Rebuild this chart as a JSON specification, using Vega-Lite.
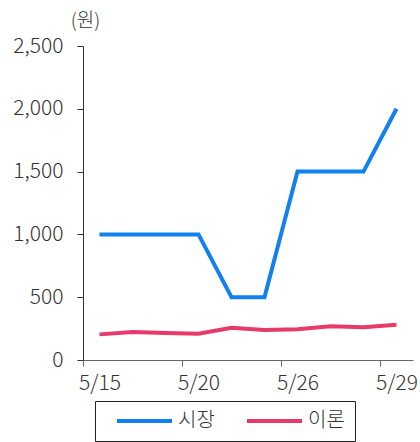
{
  "$schema": "https://vega.github.io/schema/vega-lite/v6.json",
  "width": 330,
  "height": 314,
  "autosize": {"type": "none"},
  "padding": {"left": 83, "top": 46, "right": 7, "bottom": 82},
  "background": "white",
  "config": {
    "view": {"stroke": null},
    "font": "Noto Sans CJK KR"
  },
  "data": {
    "values": [
      {"date": "5/15", "series": "시장", "price": 1000},
      {"date": "5/16", "series": "시장", "price": 1000},
      {"date": "5/19", "series": "시장", "price": 1000},
      {"date": "5/20", "series": "시장", "price": 1000},
      {"date": "5/21", "series": "시장", "price": 500},
      {"date": "5/22", "series": "시장", "price": 500},
      {"date": "5/26", "series": "시장", "price": 1500},
      {"date": "5/27", "series": "시장", "price": 1500},
      {"date": "5/28", "series": "시장", "price": 1500},
      {"date": "5/29", "series": "시장", "price": 2000},
      {"date": "5/15", "series": "이론", "price": 204},
      {"date": "5/16", "series": "이론", "price": 222},
      {"date": "5/19", "series": "이론", "price": 214},
      {"date": "5/20", "series": "이론", "price": 209},
      {"date": "5/21", "series": "이론", "price": 257},
      {"date": "5/22", "series": "이론", "price": 238},
      {"date": "5/26", "series": "이론", "price": 244},
      {"date": "5/27", "series": "이론", "price": 268},
      {"date": "5/28", "series": "이론", "price": 260},
      {"date": "5/29", "series": "이론", "price": 281}
    ]
  },
  "mark": {"type": "line", "strokeWidth": 4, "strokeJoin": "miter"},
  "encoding": {
    "x": {
      "field": "date",
      "type": "ordinal",
      "sort": null,
      "scale": {"type": "point", "padding": 0.5},
      "axis": {
        "title": null,
        "values": ["5/15", "5/20", "5/26", "5/29"],
        "labelAngle": 0,
        "tickOffset": -16.5,
        "labelOffset": 16.5,
        "tickSize": 6,
        "tickColor": "#666",
        "domainColor": "#666",
        "labelFontSize": 21,
        "labelFont": "Noto Sans CJK KR",
        "labelFontWeight": 300,
        "labelColor": "#333",
        "labelPadding": 6,
        "labelAlign": "center"
      }
    },
    "y": {
      "field": "price",
      "type": "quantitative",
      "scale": {"domain": [0, 2500], "nice": false},
      "axis": {
        "values": [0, 500, 1000, 1500, 2000, 2500],
        "format": ",d",
        "grid": false,
        "tickSize": 6,
        "tickColor": "#333",
        "domainColor": "#333",
        "labelFontSize": 21,
        "labelFont": "Noto Sans CJK KR",
        "labelFontWeight": 300,
        "labelColor": "#333",
        "labelPadding": 14,
        "title": "(원)",
        "titleAngle": 0,
        "titleX": 2,
        "titleY": -26,
        "titleAlign": "center",
        "titleBaseline": "middle",
        "titleFontSize": 19,
        "titleFont": "Noto Sans CJK KR",
        "titleFontWeight": 300,
        "titleColor": "#333"
      }
    },
    "color": {
      "field": "series",
      "type": "nominal",
      "sort": ["시장", "이론"],
      "scale": {"domain": ["시장", "이론"], "range": ["#1180F0", "#E83A6A"]},
      "legend": {
        "title": null,
        "orient": "none",
        "legendX": 12,
        "legendY": 355,
        "direction": "horizontal",
        "columns": 2,
        "symbolType": "stroke",
        "symbolSize": 3025,
        "symbolStrokeWidth": 4,
        "symbolOffset": 10,
        "clipHeight": 20,
        "strokeColor": "#222",
        "padding": 10,
        "columnPadding": 20,
        "labelFontSize": 20,
        "labelFont": "Noto Sans CJK KR",
        "labelFontWeight": 300,
        "labelColor": "#333",
        "labelOffset": 4
      }
    }
  }
}
